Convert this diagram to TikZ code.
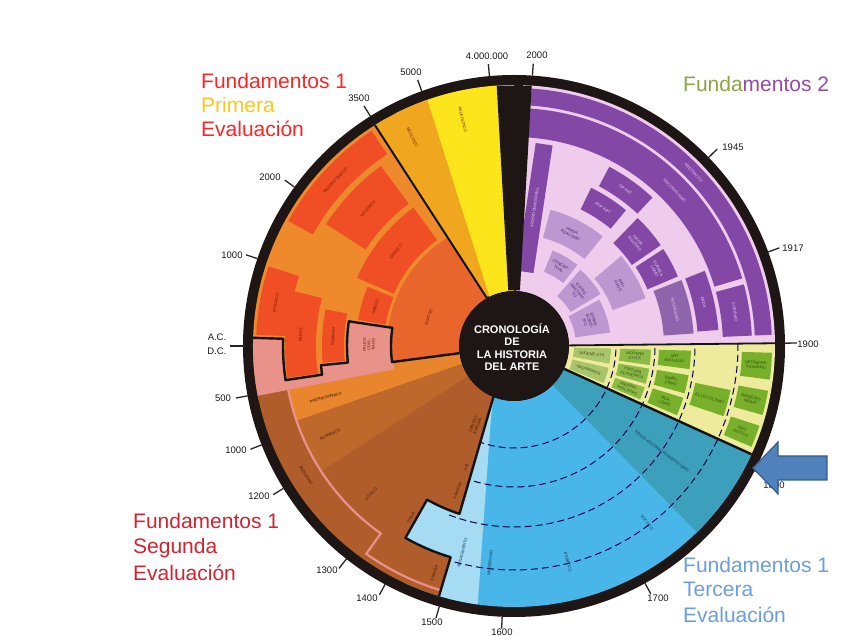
\documentclass[tikz,border=0pt]{standalone}
\usepackage{fontspec}
\setmainfont{Liberation Sans}
\usetikzlibrary{positioning,calc}

% sector de corona: color, angulo1, angulo2, radio1, radio2
\newcommand{\sectorfill}[5]{%
  \fill[#1] (#2:#4) arc[start angle=#2, end angle=#3, radius=#4pt]
    -- (#3:#5) arc[start angle=#3, end angle=#2, radius=#5pt] -- cycle;}
% caja con rotulo: [color texto]{nombre}{relleno}{a1}{a2}{r1}{r2}{giro}{texto}
\newcommand{\caja}[9][black]{%
  \sectorfill{#3}{#4}{#5}{#6}{#7}
  \node[mini, text=#1, rotate=#8] (#2) at ({(#4+#5)/2}:{(#6+#7)/2}) {#9};}

\begin{document}
\begin{tikzpicture}[x=1pt, y=1pt,
    mini/.style={font=\fontsize{4}{4.5}\selectfont, align=center, inner sep=0pt},
    etiq/.style={font=\fontsize{9.5}{10}\selectfont, text=black!90, inner sep=0pt},
    titulo/.style={font=\fontsize{21}{24}\selectfont, anchor=base west, inner sep=0pt},
    linea/.style={line width=2.4pt, draw=black!92, line join=round},
    rayita/.style={line width=1.3pt, draw=black!85},
    guion/.style={line width=1pt, draw=black!70!blue, dash pattern=on 7pt off 4pt}]
    % Colores
    \definecolor{anillo}{HTML}{1E1614}
    \definecolor{amarillo}{HTML}{FDE51C}
    \definecolor{neolit}{HTML}{F0A61E}
    \definecolor{naranja}{HTML}{EE8A2C}
    \definecolor{rojo}{HTML}{F04E24}
    \definecolor{egipcio}{HTML}{E8652B}
    \definecolor{rosa}{HTML}{E8928A}
    \definecolor{ladrillo}{HTML}{B15D2B}
    \definecolor{romanico}{HTML}{BF682C}
    \definecolor{prerrom}{HTML}{E9852C}
    \definecolor{celeste}{HTML}{A6DCF3}
    \definecolor{azul}{HTML}{48B6E9}
    \definecolor{turquesa}{HTML}{3C9FBC}
    \definecolor{crema}{HTML}{EFEB9D}
    \definecolor{verdeA}{HTML}{A9C46A}
    \definecolor{verdeB}{HTML}{8DBA47}
    \definecolor{verdeC}{HTML}{78B02B}
    \definecolor{lila}{HTML}{EFCBEC}
    \definecolor{morado}{HTML}{8347A6}
    \definecolor{moradoM}{HTML}{8E64AD}
    \definecolor{malva}{HTML}{BC97D0}
    \definecolor{lilaT}{HTML}{EBCFEF}
    \definecolor{malvaT}{HTML}{4B1D62}
    \definecolor{verdeT}{HTML}{2D4A0C}
    \definecolor{azulT}{HTML}{123A55}
    \definecolor{rojoT}{HTML}{6B1A0A}
    \definecolor{cafeT}{HTML}{3A1606}
    \definecolor{tRojo}{HTML}{FF2424}
    \definecolor{tOro}{HTML}{FFC61A}
    \definecolor{tRojoB}{HTML}{D32330}
    \definecolor{tAzul}{HTML}{6A9EDC}
    \definecolor{olivo}{HTML}{8DA443}
    \definecolor{violeta}{HTML}{9449AB}
    \definecolor{flecha}{HTML}{4F81BD}
    \definecolor{flechaB}{HTML}{385D8A}

    \useasboundingbox (-514,-290) rectangle (334,346);

    % Anillo exterior
    \fill[anillo] (0,0) circle[radius=271pt];

    % Siglo XX
    \sectorfill{lila}{0.6}{88}{55}{261}
    \sectorfill{morado}{2.5}{86.1}{241}{258}
    \sectorfill{morado}{16.5}{86.1}{209}{238}
    \node[mini, text=lilaT, rotate=-46] (abs) at (44:249.5) {ABSTRACTO};
    \node[mini, text=lilaT, rotate=-46] (rac) at (44:223.5) {RACIONALISMO};
    \caja[lilaT]{cub}{morado}{2.5}{15}{209}{238}{-81}{CUBISMO}
    \caja[lilaT]{dad}{morado}{4.5}{21.5}{184}{205}{-77}{DADA}
    \caja[lilaT]{fut}{moradoM}{4}{21.5}{150}{180}{-77}{FUTURISMO}
    \caja[lilaT]{sur}{morado}{23}{33}{145}{178}{-62}{SURREA-\\LISMO}
    \caja[lilaT]{inf}{morado}{34.5}{46}{143}{178}{-50}{INFOR-\\MALISMO}
    \caja[lilaT]{opa}{morado}{47}{62}{181}{203}{-35}{OP ART}
    \caja[lilaT]{pop}{morado}{50.5}{64}{152}{176}{-33}{POP ART}
    \caja[malvaT]{bau}{malva}{20}{40}{105}{140}{-60}{BAU-\\HAUS}
    \caja[malvaT]{hip}{malva}{51}{75}{112}{141}{-27}{HIPER-\\REALISMO}
    \caja[malvaT]{con}{malva}{52}{68}{80}{103}{-30}{CONCEP-\\TUAL}
    \caja[malvaT]{exa}{malva}{31}{49}{66}{101}{-50}{EXPRE.\\ABSTRAC-\\TO}
    \caja[malvaT]{exp}{malva}{8}{28.5}{62}{97}{-72}{EXPRE-\\SIONIS-\\MO}
    \fill[morado, rotate=81.5] (75,-8.5) rectangle (204,8.5);
    \node[mini, text=lilaT, rotate=-98.5] (tra) at (81.5:140) {TRANSVANGUARDIA};

    % Siglo XIX
    \sectorfill{crema}{335.5}{360.6}{55}{261}

    % Edad Moderna
    \sectorfill{azul}{245}{335.5}{55}{261}
    \sectorfill{turquesa}{314.5}{335.5}{55}{261}
    \fill[celeste] (248:55) -- (252:176.5) arc[start angle=252, end angle=240.5, radius=176.5pt]
        -- (240.5:220.5) arc[start angle=240.5, end angle=253.3, radius=220.5pt]
        -- (253.3:261) arc[start angle=253.3, end angle=262, radius=261pt] -- (253:80) -- cycle;
    \foreach \r in {102,141,181,224}
        \draw[guion] (249:\r) arc[start angle=249, end angle=360.6, radius=\r pt];
    \node[mini, text=azulT, rotate=-37] (neo) at (-35.5:182) {NEOCLASICISMO ROMANTICISMO};
    \node[mini, text=azulT, rotate=-53] (roc) at (-53:221) {ROCOCO};
    \node[mini, text=azulT, rotate=-76] (bar) at (-76:223) {BARROCO};
    \node[mini, text=azulT, rotate=83.7] (man) at (263.7:218) {MANIERISMO};
    \node[mini, text=azulT, rotate=76] (ren) at (256:213) {RENACIMIENTO};

    % Cajas del siglo XIX
    \caja[verdeT]{jug}{verdeA}{-1.5}{-10.5}{60}{97}{-6}{JUGEND STIL}
    \caja[verdeT]{naz}{verdeA}{-13}{-22.5}{60}{97}{-18}{NAZARENOS}
    \caja[verdeT]{mod}{verdeB}{-1.5}{-8}{106}{137}{-5}{MODERN\\STYLE}
    \caja[verdeT]{aca}{verdeB}{-9.5}{-16}{106}{137}{-13}{PINTURA\\ACADÉMICA}
    \caja[verdeT]{pre}{verdeB}{-17.5}{-23}{106}{137}{-20}{PRERRA-\\FAELISTAS}
    \caja[verdeT]{art}{verdeC}{-1.5}{-7.5}{145}{177}{-4.5}{ART\\NOUVEAU}
    \caja[verdeT]{sim}{verdeC}{-9.5}{-15.5}{145}{177}{-12.5}{SIMBO-\\LISMO}
    \caja[verdeT]{rea}{verdeC}{-17}{-23}{145}{177}{-20}{REA-\\LISMO}
    \caja[verdeT]{ecl}{verdeC}{-11.5}{-18.5}{185}{221}{-15}{ECLECTICISMO}
    \caja[verdeT]{nim}{verdeC}{-1.5}{-7.5}{228}{258}{-4.5}{NEOIMPRE-\\SIONISMO}
    \caja[verdeT]{imp}{verdeC}{-10}{-15.5}{228}{258}{-13}{IMPRESIO-\\NISMO}
    \caja[verdeT]{ngo}{verdeC}{-18}{-23}{228}{258}{-20.5}{NEO\\GÓTICO}

    % Edad Antigua y Media
    \sectorfill{naranja}{119}{192}{55}{261}
    \sectorfill{egipcio}{119}{187.5}{55}{127}
    \fill[ladrillo] (187.5:55) -- (187.5:261) arc[start angle=187.5, end angle=253.3, radius=261pt]
        -- (253.3:220.5) arc[start angle=253.3, end angle=240.5, radius=220.5pt]
        -- (240.5:176.5) arc[start angle=240.5, end angle=252, radius=176.5pt]
        -- (248:55) arc[start angle=248, end angle=187.5, radius=55pt] -- cycle;
    \sectorfill{prerrom}{187.5}{199}{55}{230}
    \sectorfill{romanico}{199}{213}{55}{230}
    \fill[rosa] (178.2:261) -- (178.2:231) arc[start angle=178.2, end angle=188.5, radius=231pt]
        -- (188.5:194) arc[start angle=188.5, end angle=185.7, radius=194pt]
        -- (185.7:122) arc[start angle=185.7, end angle=191, radius=122pt]
        -- (191:261) arc[start angle=191, end angle=178.2, radius=261pt] -- cycle;
    \draw[rosa, line width=2.2pt] (191:230) arc[start angle=191, end angle=234.6, radius=230pt]
        -- (234.6:255) arc[start angle=234.6, end angle=253.3, radius=255pt];
    \node[mini, text=cafeT, rotate=15.2] (prr) at (195.2:195) {PRERROMÁNICO};
    \node[mini, text=cafeT, rotate=25.6] (rom) at (205.6:204) {ROMÁNICO};
    \node[mini, text=cafeT, rotate=46] (got) at (226:206) {GÓTICO};
    \node[mini, text=cafeT, rotate=-58] (biz) at (212:245) {BIZANTINO};
    \node[mini, text=cafeT, rotate=60] (ita) at (239:200) {ITALIA};
    \node[mini, text=cafeT, rotate=71.6] (esp) at (250.6:241) {ESPAÑA};
    \node[mini, text=cafeT, rotate=70] (fra) at (248.6:145) {FRANCIA\hspace{12pt}G.B.};
    \node[mini, text=cafeT, rotate=67] (cen) at (244:88) {CENTRO\\EUROPA};

    % Prehistoria
    \sectorfill{amarillo}{90}{117}{55}{261}
    \fill[neolit] (119.5:55) -- (122.2:261) arc[start angle=122.2, end angle=109.4, radius=261pt]
        -- (116:58) -- cycle;
    \node[mini, text=rojoT, rotate=-77] (pal) at (102.7:232) {PALEOLÍTICO};
    \node[mini, text=rojoT, rotate=-64] (nel) at (115.9:232) {NEOLÍTICO};
    \fill[anillo] (93.8:261) -- (86.1:261) -- (83.9:56) -- (95.9:56) -- cycle;

    % Cajas de la Edad Antigua
    \caja[rojoT]{mes}{rojo}{123.5}{151}{230}{258}{47}{MESOPOTÁMICO}
    \caja[rojoT]{mic}{rojo}{126.5}{147}{177}{224}{47}{MICÉNICO}
    \caja[rojoT]{min}{rojo}{126}{156.5}{131}{171}{51}{MINOICO}
    \caja[rojoT]{gri}{rojo}{158}{170.5}{130}{158}{74}{GRIEGO}
    \caja[rojoT]{etr}{rojo}{162}{177.5}{226}{258}{80}{ETRUSCO}
    \caja[rojoT]{per}{rojo}{166}{188}{198}{229}{87}{PERSA}
    \caja[rojoT]{rmn}{rojo}{169}{185}{170}{192}{87}{ROMANO}
    \caja[rojoT]{pcr}{rosa}{171.5}{187.5}{123}{167}{89.5}{PALEO-\\CRIS-\\TIANO}
    \node[mini, text=rojoT, rotate=71] (egi) at (161:90) {EGIPCIO};

    % Lineas divisorias
    \draw[linea] (178.2:261) -- (178.2:231) arc[start angle=178.2, end angle=188.5, radius=231pt]
        -- (188.5:194) arc[start angle=188.5, end angle=185.7, radius=194pt]
        -- (185.7:167) arc[start angle=185.7, end angle=171.5, radius=167pt]
        -- (171.5:123) arc[start angle=171.5, end angle=187.5, radius=123pt] -- (187.5:55);
    \draw[linea] (248:55) -- (252:176.5) arc[start angle=252, end angle=240.5, radius=176.5pt]
        -- (240.5:220.5) arc[start angle=240.5, end angle=253.3, radius=220.5pt] -- (253.3:261);
    \draw[linea] (335.5:55) -- (335.5:261);
    \draw[linea, line width=1.8pt] (0.6:55) -- (0.6:261);
    \draw[linea, line width=2pt] (119.5:55) -- (122.2:261);

    % Centro
    \fill[anillo] (0,0) circle[radius=55pt];
    \node[font=\fontsize{11}{12.3}\selectfont\bfseries, text=white, align=center, inner sep=0pt]
        (cron) at (-2,-1) {CRONOLOGÍA\\DE\\LA HISTORIA\\DEL ARTE};

    % Marcas de fechas
    \foreach \ang/\lab/\lx/\ly [count=\i] in {86.1/2000/23/291, 95.2/4.000.000/-27/290,
        109.9/5000/-103/274, 122/3500/-155/248, 144.1/2000/-244/169, 161.2/1000/-282/91,
        190.6/500/-291/-52, 201.4/1000/-278/-104, 211.7/1200/-255/-150, 231.8/1300/-187/-224,
        241.6/1400/-147/-252, 254/1500/-82/-276, 267.5/1600/-12/-286, 298.9/1700/144/-252,
        332.6/1800/260/-139, 0.6/1900/294/2, 20.3/1917/279/98, 44.1/1945/219/199}
    {
        \draw[rayita] (\ang:271) -- (\ang:283);
        \node[etiq] (fe\i) at (\lx,\ly) {\lab};
    }
    \draw[rayita] (180:269) -- (180:284);
    \node[etiq] (ac) at (-297,9) {A.C.};
    \node[etiq] (dc) at (-297,-5) {D.C.};

    % Titulos
    \node[titulo, text=tRojo] (f1a) at (-313,257) {Fundamentos 1};
    \node[titulo, text=tOro] (f1b) at (-313,233) {Primera};
    \node[titulo, text=tRojo] (f1c) at (-313,209) {Evaluación};
    \node[titulo] (f2) at (169,254) {\textcolor{olivo}{Funda}\textcolor{violeta}{mentos 2}};
    \node[titulo, text=tRojoB] (f3a) at (-381,-183) {Fundamentos 1};
    \node[titulo, text=tRojoB] (f3b) at (-381,-208) {Segunda};
    \node[titulo, text=tRojoB] (f3c) at (-381,-234) {Evaluación};
    \node[titulo, text=tAzul] (f4a) at (169,-227) {Fundamentos 1};
    \node[titulo, text=tAzul] (f4b) at (169,-251) {Tercera};
    \node[titulo, text=tAzul] (f4c) at (169,-276) {Evaluación};

    % Flecha
    \draw[fill=flecha, draw=flechaB, line width=1.2pt] (239,-122) -- (264,-96) -- (264,-110)
        -- (313,-110) -- (313,-134) -- (264,-134) -- (264,-148) -- cycle;
\end{tikzpicture}
\end{document}
